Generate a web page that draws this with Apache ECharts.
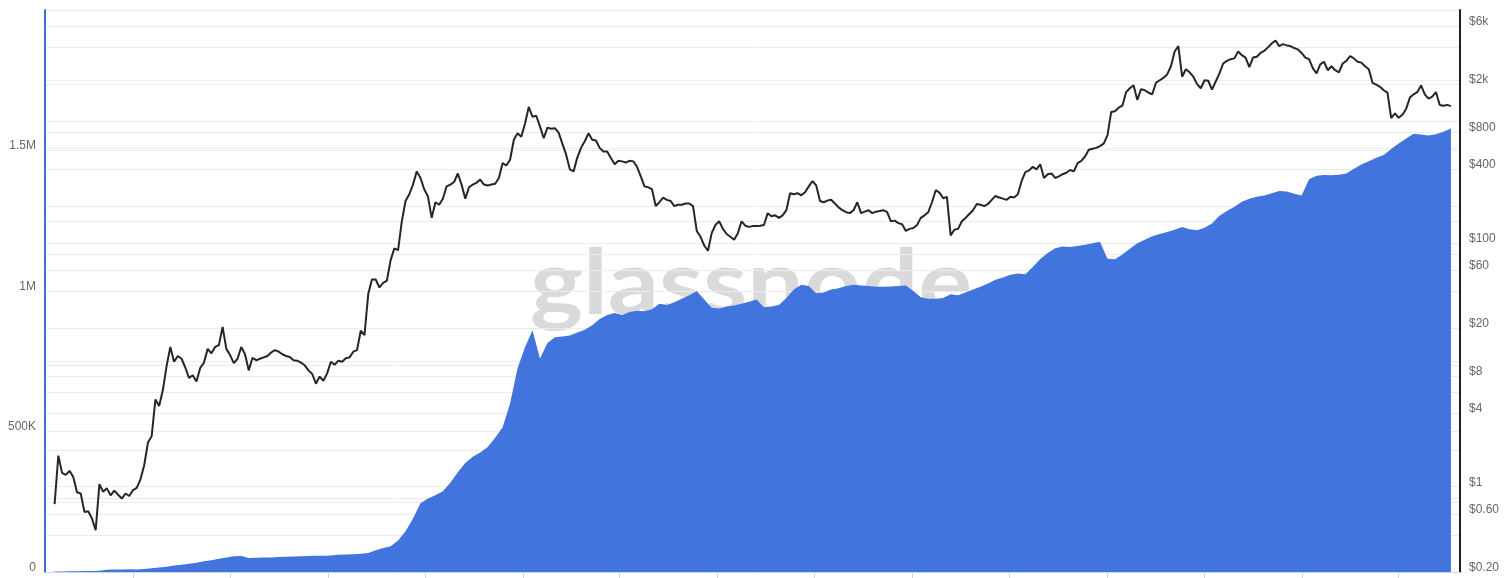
<!DOCTYPE html>
<html><head><meta charset="utf-8">
<script src="https://cdn.jsdelivr.net/npm/echarts@6/dist/echarts.min.js"></script>
<style>html,body{margin:0;padding:0;background:#fff}#c{width:1512px;height:578px}</style>
</head><body><div id="c"></div>
<script>
// ---- Price (right axis, log, USD) : weekly samples, one array per year ----
const priceStarts = ['2015-08-07','2016-01-01','2017-01-06','2018-01-05','2019-01-04','2020-01-03','2021-01-01','2022-01-07'];
const price2015 = [0.72,1.8,1.3,1.25,1.35,1.2,0.9,0.88,0.62,0.63,0.55,0.44,1.05,0.91,0.97,0.85,0.93,0.86,0.80,0.88,0.84];
const price2016 = [0.94,0.98,1.15,1.5,2.3,2.6,5.2,4.6,6.2,9.8,14,10.6,11.8,11.2,9.5,7.8,8.2,7.3,9.4,10.4,13.5,12.4,14,14.5,20.4,13.5,12,10.3,11.2,14,12.2,9,11.4,10.9,11.2,11.5,11.8,12.6,13.2,12.8,12.2,11.8,11.6,10.9,10.8,10.4,9.9,9.0,8.4,7.0,8.0,7.4,8.5];
const price2017 = [10.6,10.0,10.8,10.6,11.3,11.5,12.8,13.2,19.0,17.5,38,50,50,43,47,49,72,90,87,150,220,250,300,385,340,275,240,160,215,205,230,290,300,315,370,300,230,285,300,310,330,300,295,300,305,340,450,430,480,700,790,740];
const price2018 = [950,1300,1080,1100,900,720,880,860,870,800,650,530,400,385,500,600,680,790,700,690,600,560,560,495,440,470,465,455,470,465,420,350,290,285,275,200,215,235,225,220,200,205,205,210,210,200,125,112,95,86,120,140];
const price2019 = [150,130,118,112,106,120,150,138,135,137,137,138,140,175,165,168,160,168,185,255,250,255,245,260,290,320,295,220,215,222,225,210,195,185,178,175,185,215,175,180,185,175,180,182,185,178,150,152,145,142,125,130];
const price2020 = [132,140,160,168,178,215,270,258,232,238,115,128,130,150,160,172,185,208,205,200,208,225,242,235,230,225,238,235,250,320,380,392,420,400,440,340,365,370,340,350,365,375,395,385,450,470,510,580,590,600,620,650];
const price2021 = [760,1180,1200,1280,1330,1720,1850,1960,1480,1820,1780,1700,1650,2050,2150,2250,2400,2800,3700,4100,2300,2650,2500,2300,2000,1850,2150,2130,1800,2100,2450,2950,3100,3200,3250,3700,3450,3300,2750,3300,3350,3600,3750,4000,4300,4550,4100,4250,4150,4100,3950,3850,3600];
const price2022 = [3300,3200,2700,2450,2900,3050,2600,2800,2600,2500,2950,3100,3400,3250,3050,3000,2800,2650,2050,1980,1900,1780,1700,1050,1150,1060,1120,1250,1550,1650,1720,1950,1650,1520,1580,1720,1350,1330,1350,1320];

// ---- Blue area (left axis) : two-week samples, one array per year ----
const areaStarts = ['2015-08-07','2016-01-08','2017-01-06','2018-01-05','2019-01-04','2020-01-03','2021-01-01','2022-01-14'];
const area2015 = [1500,2000,2500,3000,3500,4000,4500,8000,8500,9000,9500];
const area2016 = [9000,11000,13000,16000,19000,23000,26000,29000,33000,38000,42000,47000,52000,56000,57000,50000,51000,52000,52000,53000,54000,55000,56000,57000,58000,58000];
const area2017 = [59000,61000,62000,63000,65000,68000,77000,85000,92000,112000,145000,190000,245000,262000,273000,287000,318000,355000,388000,410000,425000,445000,478000,515000,600000,725000];
const area2018 = [800000,860000,760000,815000,835000,838000,842000,852000,862000,878000,900000,915000,922000,915000,925000,930000,928000,935000,955000,950000,960000,972000,985000,1000000,970000,940000];
const area2019 = [938000,945000,948000,955000,962000,970000,942000,945000,950000,975000,1005000,1022000,1018000,992000,995000,1005000,1010000,1018000,1022000,1020000,1018000,1015000,1015000,1016000,1018000,1020000];
const area2020 = [1000000,978000,972000,972000,975000,988000,985000,995000,1005000,1015000,1027000,1040000,1048000,1058000,1062000,1060000,1085000,1114000,1135000,1152000,1158000,1157000,1160000,1165000,1170000,1175000];
const area2021 = [1115000,1113000,1130000,1150000,1170000,1182000,1195000,1203000,1210000,1218000,1228000,1220000,1216000,1225000,1240000,1268000,1285000,1300000,1318000,1328000,1335000,1340000,1348000,1356000,1354000,1346000,1340000];
const area2022 = [1398000,1410000,1413000,1412000,1414000,1418000,1435000,1450000,1462000,1474000,1484000,1505000,1525000,1543000,1560000,1557000,1553000,1558000,1567000,1578000];

// ---- Axis ticks ----
const leftLabelValues = [0, 500000, 1000000, 1500000];
const priceLabelValues = [0.2, 0.6, 1, 4, 8, 20, 60, 100, 400, 800, 2000, 6000];
const priceGridValues = [0.2,0.4,0.6,0.8,1,2,4,6,8,10,20,40,60,80,100,200,400,600,800,1000,2000,4000,6000,8000];
const dateTicks = ['2016-01-01','2016-07-01','2017-01-01','2017-07-01','2018-01-01','2018-07-01','2019-01-01','2019-07-01','2020-01-01','2020-07-01','2021-01-01','2021-07-01','2022-01-01','2022-07-01'];
const xRange = ['2015-07-20','2022-10-24'];

const DAY = 86400000;
const ts = s => Date.parse(s + 'T00:00:00Z');
function build(starts, arrays, stepDays) {
  const out = [];
  arrays.forEach((arr, j) => {
    const t0 = ts(starts[j]);
    arr.forEach((v, i) => out.push([t0 + i * stepDays * DAY, v]));
  });
  return out;
}
const priceData = build(priceStarts, [price2015,price2016,price2017,price2018,price2019,price2020,price2021,price2022], 7);
const areaData = build(areaStarts, [area2015,area2016,area2017,area2018,area2019,area2020,area2021,area2022], 14);

const fmtLeft = v => v >= 1e6 ? (v / 1e6) + 'M' : v >= 1e3 ? (v / 1e3) + 'K' : String(v);
const fmtPrice = v => v >= 1000 ? '$' + (v / 1000) + 'k' : v < 1 ? '$' + v.toFixed(2) : '$' + v;

// watermark width fit
const wmFont = 'bold 90px Lato';
const mctx = document.createElement('canvas').getContext('2d');
mctx.font = wmFont;
const wmScale = 442 / mctx.measureText('glassnode').width;

const chart = echarts.init(document.getElementById('c'), null, {renderer: 'canvas'});
const labelStyle = {color: '#666', fontSize: 12, fontFamily: 'Liberation Sans, Arial, sans-serif', verticalAlign: 'bottom', lineHeight: 9};
chart.setOption({
  animation: false,
  backgroundColor: '#fff',
  grid: {left: 45, right: 52, top: 10, bottom: 6, containLabel: false, outerBoundsMode: 'none'},
  graphic: [{
    type: 'text', x: 530, y: 330, z: 0, scaleX: wmScale, silent: true,
    style: {text: 'glassnode', font: wmFont, fill: '#dadada', align: 'left', verticalAlign: 'bottom'}
  }],
  xAxis: {
    type: 'time', min: ts(xRange[0]), max: ts(xRange[1]), z: 5,
    axisLine: {show: true, lineStyle: {color: '#ccd6eb', width: 1}},
    axisTick: {show: true, length: 6, lineStyle: {color: '#ccd6eb'}, customValues: dateTicks.map(ts)},
    axisLabel: {show: false},
    splitLine: {show: false}
  },
  yAxis: [{
    type: 'value', position: 'left', min: 0, max: 2000000, interval: 250000,
    axisLine: {show: true, lineStyle: {color: '#3d6fd6', width: 2}},
    axisTick: {show: false},
    axisLabel: Object.assign({customValues: leftLabelValues, formatter: fmtLeft, margin: 9}, labelStyle),
    splitLine: {show: true, lineStyle: {color: '#ececec', width: 1}}
  }, {
    type: 'log', logBase: 10, position: 'right', min: 0.2, max: 8100,
    axisLine: {show: true, lineStyle: {color: '#1e1e1e', width: 2}},
    axisTick: {show: false, customValues: priceGridValues},
    axisLabel: Object.assign({customValues: priceLabelValues, formatter: fmtPrice, margin: 9}, labelStyle),
    splitLine: {show: true, lineStyle: {color: '#ececec', width: 1}}
  }],
  series: [{
    type: 'line', yAxisIndex: 0, data: areaData, showSymbol: false, z: 2,
    lineStyle: {width: 0}, areaStyle: {color: '#4274dd', opacity: 1}
  }, {
    type: 'line', yAxisIndex: 1, data: priceData, showSymbol: false, z: 3,
    lineStyle: {color: '#262626', width: 2}
  }]
});
</script></body></html>
